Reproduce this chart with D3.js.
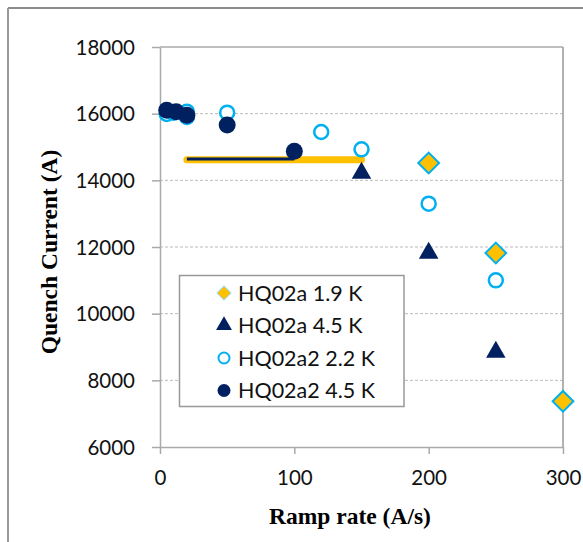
<!DOCTYPE html>
<html>
<head>
<meta charset="utf-8">
<script src="https://cdn.jsdelivr.net/npm/d3@7"></script>
<style>
  body { margin: 0; background: #fff; }
  svg { display: block; }
</style>
</head>
<body>
<svg id="chart" width="583" height="542"></svg>
<script>
// data
const xTicks = [0, 100, 200, 300];
const yTicks = [6000, 8000, 10000, 12000, 14000, 16000, 18000];

const hq02a19K = [[200, 14520], [250, 11820], [300, 7370]];
const hq02a45K = [[150, 14220], [200, 11820], [250, 8850]];
const hq02a2_22K = [[5, 15990], [10, 16030], [20, 16060], [20, 15900], [50, 16030], [120, 15450], [150, 14930], [200, 13300], [250, 11000]];
const hq02a2_45K = [[5, 16100], [12, 16060], [20, 15950], [50, 15660], [100, 14870]];

// the two plateau lines
const goldLine = [[20, 14620], [150, 14620]];
const navyLine = [[20, 14640], [100, 14640]];

const legendNames = ['HQ02a 1.9 K', 'HQ02a 4.5 K', 'HQ02a2 2.2 K', 'HQ02a2 4.5 K'];

const gold = '#FFC000', lightBlue = '#00B0F0', navy = '#002060';

const svg = d3.select('#chart');

// outer frame
svg.append('line').attr('x1', 8).attr('y1', 8).attr('x2', 583).attr('y2', 8)
    .attr('stroke', '#666').attr('stroke-width', 1.5);
svg.append('line').attr('x1', 8).attr('y1', 8).attr('x2', 8).attr('y2', 542)
    .attr('stroke', '#999').attr('stroke-width', 2);

const x = d3.scaleLinear().domain([0, 300]).range([160, 563]);
const y = d3.scaleLinear().domain([6000, 18000]).range([447, 47]);

// gridlines
svg.append('g')
    .selectAll('line')
    .data(yTicks.filter(d => d > 6000 && d < 18000))
    .join('line')
    .attr('x1', x(0)).attr('x2', x(300))
    .attr('y1', d => y(d)).attr('y2', d => y(d))
    .attr('stroke', '#bbb').attr('stroke-dasharray', '3,2');

// box top & right
svg.append('line').attr('x1', x(0)).attr('x2', x(300)).attr('y1', y(18000)).attr('y2', y(18000))
    .attr('stroke', '#aaa').attr('stroke-width', 1.5);
svg.append('line').attr('x1', x(300)).attr('x2', x(300)).attr('y1', y(18000)).attr('y2', y(6000))
    .attr('stroke', '#999').attr('stroke-width', 1.5);

// axes
const xAxis = svg.append('g')
    .attr('transform', `translate(0,${y(6000)})`)
    .call(d3.axisBottom(x).tickValues(xTicks).tickSize(7).tickPadding(16).tickSizeOuter(0));
const yAxis = svg.append('g')
    .attr('transform', `translate(${x(0)},0)`)
    .call(d3.axisLeft(y).tickValues(yTicks).tickFormat(d3.format('d')).tickSize(8).tickPadding(17).tickSizeOuter(0));

[xAxis, yAxis].forEach(g => {
    g.selectAll('.domain').attr('stroke', '#aaa').attr('stroke-width', 1.5);
    g.selectAll('.tick line').attr('stroke', '#aaa').attr('stroke-width', 1.5);
    g.selectAll('text').attr('font-family', 'Lato, sans-serif').attr('font-size', 20.5).attr('fill', '#111');
});
yAxis.selectAll('text').attr('dy', '0.35em');

// axis titles
svg.append('text')
    .text('Ramp rate (A/s)')
    .attr('x', 350).attr('y', 524)
    .attr('text-anchor', 'middle')
    .attr('font-family', '"Liberation Serif", serif')
    .attr('font-weight', 'bold').attr('font-size', 23.5);
svg.append('text')
    .text('Quench Current (A)')
    .attr('transform', 'translate(57,252)rotate(-90)')
    .attr('text-anchor', 'middle')
    .attr('font-family', '"Liberation Serif", serif')
    .attr('font-weight', 'bold').attr('font-size', 23.5);

// plateau lines
const line = d3.line().x(d => x(d[0])).y(d => y(d[1]));
svg.append('path').attr('d', line(goldLine))
    .attr('fill', 'none').attr('stroke', gold).attr('stroke-width', 7).attr('stroke-linecap', 'round');
svg.append('path').attr('d', line(navyLine))
    .attr('fill', 'none').attr('stroke', navy).attr('stroke-width', 3);

const diamond = d3.symbol().type(d3.symbolSquare).size(215);
const triangle = d3.symbol().type(d3.symbolTriangle).size(165);

// open circles
svg.append('g').selectAll('circle')
    .data(hq02a2_22K)
    .join('circle')
    .attr('cx', d => x(d[0])).attr('cy', d => y(d[1])).attr('r', 7)
    .attr('fill', '#fff').attr('stroke', lightBlue).attr('stroke-width', 2.5);

// filled circles
svg.append('g').selectAll('circle')
    .data(hq02a2_45K)
    .join('circle')
    .attr('cx', d => x(d[0])).attr('cy', d => y(d[1])).attr('r', 8.5)
    .attr('fill', navy);

// diamonds
svg.append('g').selectAll('path')
    .data(hq02a19K)
    .join('path')
    .attr('d', diamond)
    .attr('transform', d => `translate(${x(d[0])},${y(d[1])})rotate(45)`)
    .attr('fill', gold).attr('stroke', lightBlue).attr('stroke-width', 2);

// triangles
svg.append('g').selectAll('path')
    .data(hq02a45K)
    .join('path')
    .attr('d', triangle)
    .attr('transform', d => `translate(${x(d[0])},${y(d[1])})`)
    .attr('fill', navy);

// legend
const legend = svg.append('g');
legend.append('rect')
    .attr('x', 179.5).attr('y', 275.5).attr('width', 224.5).attr('height', 131)
    .attr('fill', '#fff').attr('stroke', '#999').attr('stroke-width', 1.5);

const rows = legend.selectAll('g.row')
    .data(legendNames)
    .join('g')
    .attr('class', 'row')
    .attr('transform', (d, i) => `translate(224,${293 + i * 32.5})`);

rows.each(function (d, i) {
    const g = d3.select(this);
    if (i === 0) {
        g.append('path').attr('d', d3.symbol().type(d3.symbolSquare).size(100))
            .attr('transform', 'rotate(45)')
            .attr('fill', gold).attr('stroke', '#9fdcf0').attr('stroke-width', 1);
    } else if (i === 1) {
        g.append('path').attr('d', d3.symbol().type(d3.symbolTriangle).size(110)).attr('fill', navy);
    } else if (i === 2) {
        g.append('circle').attr('r', 5.5).attr('fill', '#fff').attr('stroke', lightBlue).attr('stroke-width', 2);
    } else {
        g.append('circle').attr('r', 6.5).attr('fill', navy);
    }
    g.append('text')
        .text(d)
        .attr('x', 14).attr('dy', '0.35em')
        .attr('font-family', 'Lato, sans-serif').attr('font-size', 21.5).attr('fill', '#111');
});
</script>
</body>
</html>
